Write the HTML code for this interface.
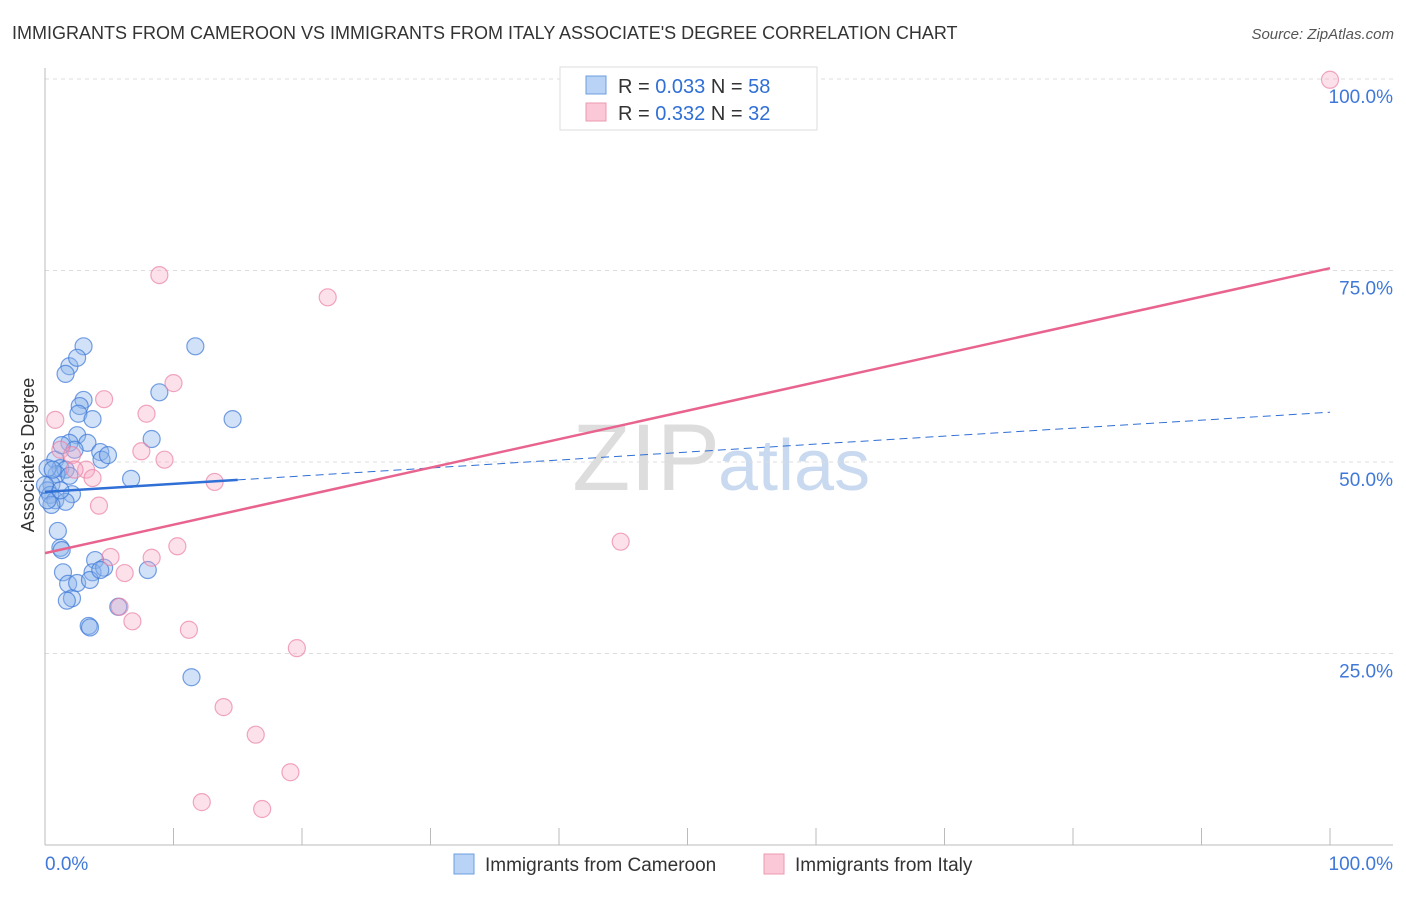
<!DOCTYPE html>
<html><head><meta charset="utf-8"><style>
body{margin:0;background:#fff;font-family:"Liberation Sans",sans-serif;}
svg text{font-family:"Liberation Sans",sans-serif;}
</style></head><body>
<svg id="chart" width="1406" height="892" xmlns="http://www.w3.org/2000/svg">
<text x="12" y="39" font-size="18" fill="#333">IMMIGRANTS FROM CAMEROON VS IMMIGRANTS FROM ITALY ASSOCIATE'S DEGREE CORRELATION CHART</text>
<text x="1394" y="39" font-size="15" fill="#555" text-anchor="end" font-style="italic">Source: ZipAtlas.com</text>
<text x="720" y="490" font-size="95" fill="#ddd" text-anchor="end" font-family="Liberation Serif">ZIP</text>
<text x="718" y="490" font-size="72" fill="#c9daf0">atlas</text>
<g id="grid"></g>
<g id="axes"></g>
<g id="marks"></g>
<text transform="translate(34,455) rotate(-90)" font-size="18" fill="#333" text-anchor="middle">Associate's Degree</text>
<g>
<rect x="560" y="67" width="257" height="63" fill="#fff" stroke="#ddd"/>
<rect x="586" y="76" width="20" height="18" fill="#b8d3f5" stroke="#6d9de0"/>
<rect x="586" y="103" width="20" height="18" fill="#fac8d6" stroke="#ec9ab2"/>
<text x="618" y="93" font-size="20" fill="#333">R = <tspan fill="#2f6fd6">0.033</tspan>   N = <tspan fill="#2f6fd6">58</tspan></text>
<text x="618" y="120" font-size="20" fill="#333">R = <tspan fill="#2f6fd6"> 0.332</tspan>   N = <tspan fill="#2f6fd6">32</tspan></text>
</g>
<g>
<rect x="454" y="854" width="20" height="20" fill="#b8d3f5" stroke="#6d9de0"/>
<text x="485" y="871" font-size="19" fill="#333">Immigrants from Cameroon</text>
<rect x="764" y="854" width="20" height="20" fill="#fac8d6" stroke="#ec9ab2"/>
<text x="795" y="871" font-size="19" fill="#333">Immigrants from Italy</text>
</g>
</svg>
<script>
const blueX=[3.0,1.9,1.6,2.5,11.7,8.9,14.6,3.0,2.7,2.6,3.7,2.5,1.9,3.3,2.3,4.3,4.4,8.3,6.7,0.8,1.2,1.6,0.9,1.9,0.5,0.2,0.4,2.1,0.8,1.6,1.0,1.2,1.3,1.4,1.8,2.1,1.7,2.5,3.9,3.7,3.5,4.6,4.3,8.0,5.7,3.4,11.4,0.2,0.5,0.2,1.2,0,0.6,1.3,4.9,3.5];
const blueY=[65.1,62.5,61.5,63.6,65.1,59.1,55.6,58.1,57.3,56.3,55.6,53.5,52.5,52.5,51.6,51.3,50.3,53.0,47.8,50.3,49.2,49.0,48.4,48.2,47.1,46.3,45.7,45.8,45.0,44.8,41.0,38.8,38.5,35.6,34.1,32.2,31.9,34.2,37.2,35.6,34.6,36.2,35.9,35.9,31.1,28.6,21.9,49.2,44.4,45.0,46.3,47.0,49.0,52.2,50.9,28.4];
const pinkX=[100,8.9,22.0,4.6,10.0,7.9,0.8,1.2,2.1,7.5,9.3,3.2,3.7,13.2,4.2,44.8,10.3,5.1,8.3,6.2,5.8,6.8,11.2,19.6,13.9,16.4,19.1,12.2,16.9,2.3];
const pinkY=[99.9,74.4,71.5,58.2,60.3,56.3,55.5,51.6,50.9,51.4,50.3,49.0,47.9,47.4,44.3,39.6,39.0,37.6,37.5,35.5,31.1,29.2,28.1,25.7,18.0,14.4,9.5,5.6,4.7,49.0];
const yTicks=[25,50,75,100];
const yTickLabels=["25.0%","50.0%","75.0%","100.0%"];
const blueTrend=[46.1,56.5]; // at x=0 and x=100
const pinkTrend=[38.1,75.3];
const NS="http://www.w3.org/2000/svg";
const sx=v=>45+v*12.85, sy=v=>845-v*7.66;
function mk(tag,attrs,parent){const e=document.createElementNS(NS,tag);for(const k in attrs)e.setAttribute(k,attrs[k]);document.getElementById(parent).appendChild(e);return e;}
const ax=mk('line',{x1:45,y1:68,x2:45,y2:845,stroke:'#bbb'},'axes');


const bx=mk('line',{x1:45,y1:845,x2:1393,y2:845,stroke:'#bbb'},'axes');


for(let i=1;i<=10;i++){const t=mk('line',{x1:sx(i*10),y1:828,x2:sx(i*10),y2:845,stroke:'#bbb'},'axes');

}
yTicks.forEach((v,i)=>{const g=mk('line',{x1:45,y1:sy(v),x2:1393,y2:sy(v),stroke:'#ddd','stroke-dasharray':'4,4'},'grid');


const t=mk('text',{x:1393,y:sy(v)+24,'font-size':19,fill:'#3f78d8','text-anchor':'end'},'axes');t.textContent=yTickLabels[i];

});
const x0=mk('text',{x:45,y:870,'font-size':19,fill:'#3f78d8'},'axes');x0.textContent='0.0%';


const x1=mk('text',{x:1393,y:870,'font-size':19,fill:'#3f78d8','text-anchor':'end'},'axes');x1.textContent='100.0%';


blueX.forEach((x,i)=>{const c=mk('circle',{cx:sx(x),cy:sy(blueY[i]),r:8.5,fill:'rgba(140,180,235,0.4)',stroke:'rgba(60,120,215,0.7)','stroke-width':1.2},'marks');

});
pinkX.forEach((x,i)=>{const c=mk('circle',{cx:sx(x),cy:sy(pinkY[i]),r:8.5,fill:'rgba(245,170,195,0.35)',stroke:'rgba(235,130,165,0.7)','stroke-width':1.2},'marks');

});
const bl=v=>blueTrend[0]+(blueTrend[1]-blueTrend[0])*v/100;
const l1=mk('line',{x1:sx(0),y1:sy(bl(0)),x2:sx(15),y2:sy(bl(15)),stroke:'#2f6fd6','stroke-width':2.5},'marks');


const l2=mk('line',{x1:sx(15),y1:sy(bl(15)),x2:sx(100),y2:sy(bl(100)),stroke:'#2f6fd6','stroke-width':1,'stroke-dasharray':'8,5'},'marks');


const l3=mk('line',{x1:sx(0),y1:sy(pinkTrend[0]),x2:sx(100),y2:sy(pinkTrend[1]),stroke:'#e8648f','stroke-width':2.5},'marks');


</script>
</body></html>
